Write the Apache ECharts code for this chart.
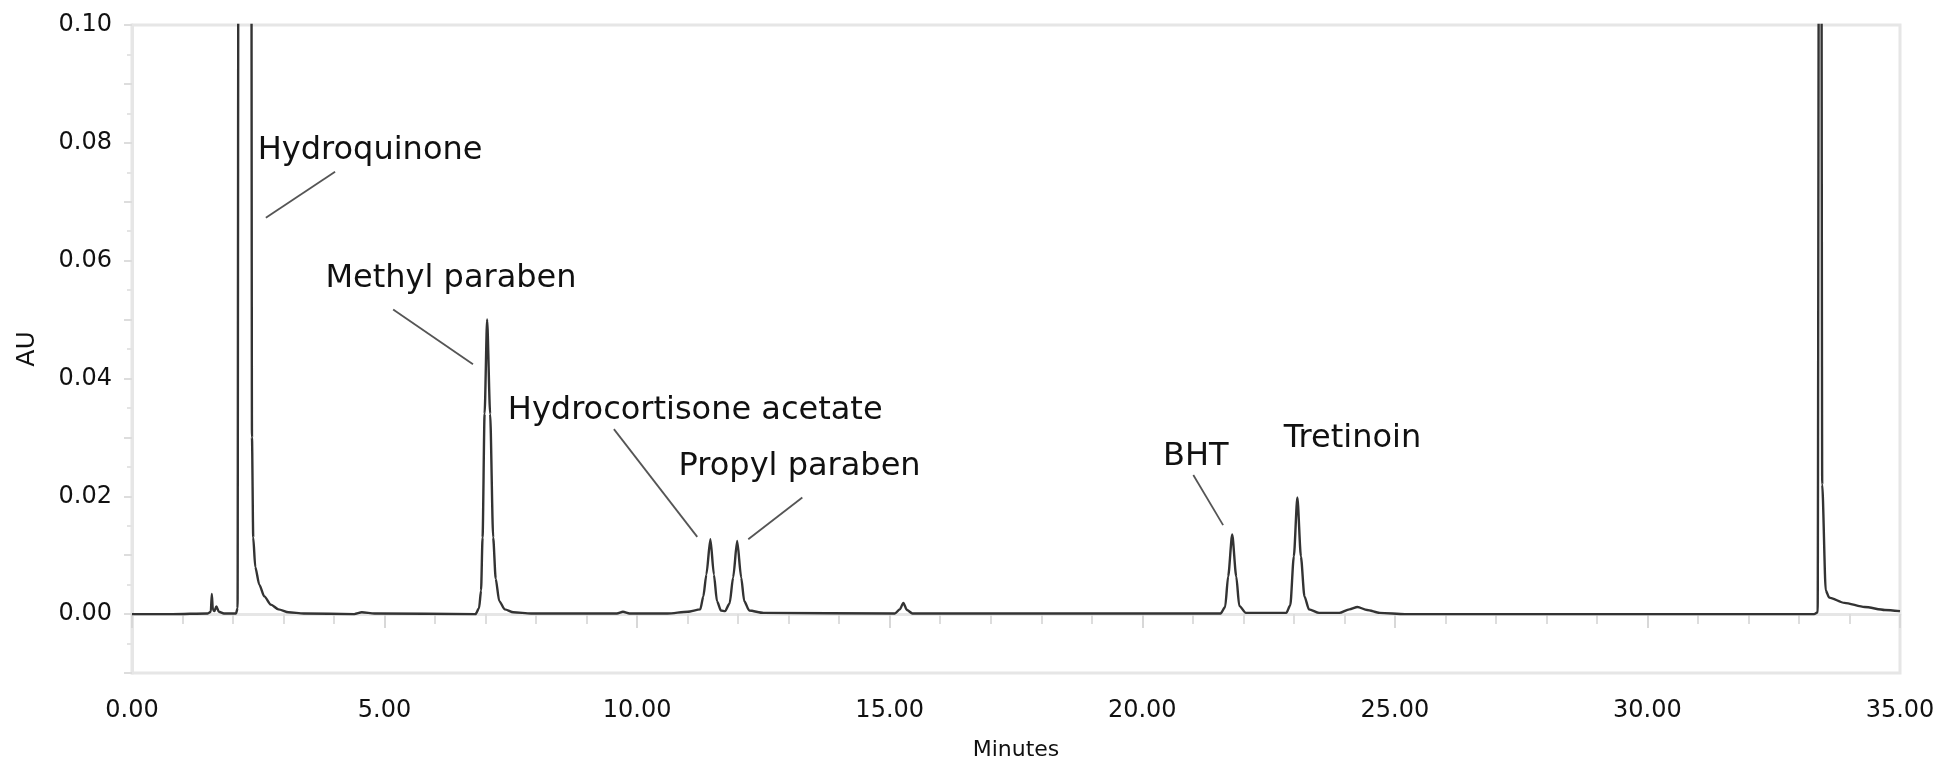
<!DOCTYPE html>
<html>
<head>
<meta charset="utf-8">
<script src="https://cdn.jsdelivr.net/npm/echarts@6/dist/echarts.min.js"></script>
<style>
  html, body { margin: 0; padding: 0; background: #fff; }
  #my_chart { width: 1942px; height: 766px; }
</style>
</head>
<body>
<div id="my_chart"></div>
<script>
// chromatogram trace (minutes, AU)
var minutes = [
  0.00, 0.80, 1.50, 1.56, 1.58, 1.60, 1.63, 1.67, 1.72, 1.82,
  2.06, 2.09, 2.11, 2.24, 2.36, 2.375, 2.40, 2.44, 2.52, 2.62, 2.75, 2.90, 3.10, 3.40,
  4.40, 4.55, 4.80,
  6.80, 6.87, 6.91, 6.94, 6.98, 7.03, 7.09, 7.15, 7.20, 7.27, 7.38, 7.55, 7.90,
  9.60, 9.72, 9.85,
  10.60, 11.00, 11.25, 11.31, 11.37, 11.45, 11.52, 11.58, 11.66, 11.74,
  11.83, 11.90, 11.98, 12.06, 12.12, 12.22, 12.50,
  15.10, 15.20, 15.27, 15.34, 15.45,
  21.55, 21.64, 21.70, 21.78, 21.86, 21.92, 22.05,
  22.85, 22.93, 23.00, 23.07, 23.14, 23.21, 23.30, 23.50,
  23.90, 24.10, 24.26, 24.45, 24.70, 25.20,
  33.30, 33.37, 33.40, 33.44, 33.46, 33.53, 33.60, 33.90, 34.30, 34.70, 35.00
];
var au = [
  0.0000, 0.0000, 0.0001, 0.0004, 0.0034, 0.0008, 0.0005, 0.0013, 0.0004, 0.0001,
  0.0001, 0.0010, 0.1500, 0.3000, 0.1500, 0.0300, 0.0130, 0.0080, 0.0050, 0.0030, 0.0016, 0.0008, 0.0003, 0.0001,
  0.0000, 0.0003, 0.0001,
  0.0000, 0.0010, 0.0040, 0.0130, 0.0340, 0.0500, 0.0340, 0.0130, 0.0060, 0.0022, 0.0008, 0.0003, 0.0001,
  0.0001, 0.0004, 0.0001,
  0.0001, 0.0004, 0.0008, 0.0030, 0.0067, 0.0127, 0.0067, 0.0022, 0.0006, 0.0005,
  0.0018, 0.0062, 0.0124, 0.0062, 0.0022, 0.0006, 0.0002,
  0.0001, 0.0008, 0.0019, 0.0007, 0.0001,
  0.0001, 0.0012, 0.0064, 0.0135, 0.0064, 0.0014, 0.0002,
  0.0002, 0.0015, 0.0098, 0.0198, 0.0098, 0.0030, 0.0008, 0.0002,
  0.0002, 0.0008, 0.0012, 0.0007, 0.0002, 0.0000,
  0.0000, 0.0003, 0.1500, 0.1500, 0.0220, 0.0040, 0.0028, 0.0019, 0.0012, 0.0007, 0.0005
];

// peak labels: where the text starts, and the leader line from text to peak
var peakNames = ['Hydroquinone', 'Methyl paraben', 'Hydrocortisone acetate', 'Propyl paraben', 'BHT', 'Tretinoin'];
var labelAt   = [[2.48, 0.0786], [3.82, 0.0569], [7.43, 0.0346], [10.81, 0.0251], [20.40, 0.0268], [22.79, 0.0298]];
var leaderFrom = [[4.02, 0.0751], [5.17, 0.0517], [9.54, 0.0314], [13.27, 0.0198], [21.01, 0.0236], null];
var leaderTo   = [[2.65, 0.0673], [6.75, 0.0424], [11.19, 0.0131], [12.20, 0.0127], [21.60, 0.0151], null];

var xTicks = [0, 35, 5];          // min, max, step
var yTicks = [-0.01, 0.10, 0.01]; // min, max, step (labels every 0.02)

var trace = minutes.map(function (t, i) { return [t, au[i]]; });
var labelData = peakNames.map(function (n, i) { return [labelAt[i][0], labelAt[i][1], n]; });
var leaders = [];
for (var i = 0; i < leaderFrom.length; i++) {
  if (leaderFrom[i]) leaders.push([{ coord: leaderFrom[i] }, { coord: leaderTo[i] }]);
}

var myChart = echarts.init(document.getElementById('my_chart'));
var frame = '#e6e6e6';
var font = 'DejaVu Sans';

var option = {
  animation: false,
  backgroundColor: '#fff',
  grid: { left: 132, right: 42, top: 25, bottom: 93, show: true, borderColor: frame, borderWidth: 3 },
  xAxis: {
    type: 'value',
    min: xTicks[0], max: xTicks[1], interval: xTicks[2],
    name: 'Minutes', nameLocation: 'middle', nameGap: 66,
    nameTextStyle: { fontFamily: font, fontSize: 22, color: '#111' },
    axisLine: { show: true, lineStyle: { color: frame, width: 3 } },
    axisTick: { show: true, length: 14, lineStyle: { color: '#d8d8d8', width: 2 } },
    minorTick: { show: true, splitNumber: 5, length: 10, lineStyle: { color: '#dddddd', width: 2 } },
    axisLabel: {
      margin: 26, fontFamily: font, fontSize: 24, color: '#111',
      formatter: function (v) { return v.toFixed(2); }
    },
    splitLine: { show: false }
  },
  yAxis: {
    type: 'value',
    min: yTicks[0], max: yTicks[1], interval: yTicks[2],
    name: 'AU', nameLocation: 'middle', nameRotate: 90, nameGap: 92,
    nameTextStyle: { fontFamily: font, fontSize: 25, color: '#111' },
    axisLine: { show: true, lineStyle: { color: frame, width: 3 } },
    axisTick: { show: true, length: 8, lineStyle: { color: '#dddddd', width: 2 } },
    minorTick: { show: true, splitNumber: 2, length: 5, lineStyle: { color: '#e4e4e4', width: 2 } },
    axisLabel: {
      margin: 20, fontFamily: font, fontSize: 24, color: '#111',
      formatter: function (v) {
        var k = Math.round(v * 100);
        return (k >= 0 && k % 2 === 0) ? (k / 100).toFixed(2) : '';
      }
    },
    splitLine: { show: false }
  },
  series: [
    {
      type: 'line',
      data: trace,
      showSymbol: false,
      smooth: 0.25,
      smoothMonotone: 'x',
      clip: true,
      lineStyle: { color: '#333', width: 2.4 }
    },
    {
      type: 'scatter',
      data: labelData,
      symbolSize: 1,
      // scatter defaults to opacity 0.8, which the labels would inherit
      itemStyle: { color: 'rgba(0,0,0,0)', opacity: 1 },
      silent: true,
      label: {
        show: true, position: 'right', distance: 0,
        fontFamily: font, fontSize: 32, color: '#111',
        formatter: function (p) { return p.data[2]; }
      },
      labelLayout: { hideOverlap: false },
      emphasis: { disabled: true },
      markLine: {
        silent: true,
        symbol: ['none', 'none'],
        label: { show: false },
        lineStyle: { color: '#555', width: 1.8, type: 'solid' },
        data: leaders
      }
    }
  ]
};
myChart.setOption(option);
</script>
</body>
</html>
